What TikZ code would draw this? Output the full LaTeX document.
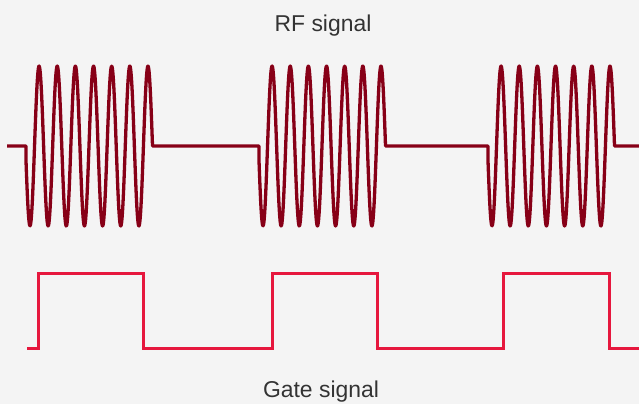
\documentclass[tikz,border=0pt]{standalone}
\usepackage{fontspec}
\setmainfont{Liberation Sans}
\usepackage{xcolor}
\definecolor{sigbg}{HTML}{F4F4F4}
\definecolor{sigrf}{HTML}{870017}
\definecolor{siggate}{HTML}{E6173D}
\definecolor{sigtext}{HTML}{333333}
\begin{document}
\begin{tikzpicture}[x=1bp, y=-1bp,
    rfline/.style={draw=sigrf, line width=3.3bp, line join=round},
    gateline/.style={draw=siggate, line width=3bp},
    caption/.style={text=sigtext, font=\fontsize{23}{27}\selectfont, anchor=base}]
        \fill[sigbg] (0,0) rectangle (639,404);
        \useasboundingbox (0,0) rectangle (639,404);
        \node[caption] (rftitle) at (323,31) {RF signal};
        \node[caption] (gatetitle) at (321,397) {Gate signal};
        % RF bursts on the baseline
        \draw[rfline] (7,146)
          \foreach \t [evaluate=\t as \te using \t+126.5] in {26,259,488} {
            -- (\t,146)
            -- plot[domain=\t:\te, samples=300] (\x,{146+80*cos((\x-\t-4)*19.835)})
            -- (\te,146)
          } -- (639,146);
        % gate pulses
        \draw[gateline] (27,348)
          \foreach \a/\b in {38/143, 272/377, 503/609} {
            -- (\a,348) -- (\a,273) -- (\b,273) -- (\b,348)
          } -- (639,348);
      \end{tikzpicture}
\end{document}
